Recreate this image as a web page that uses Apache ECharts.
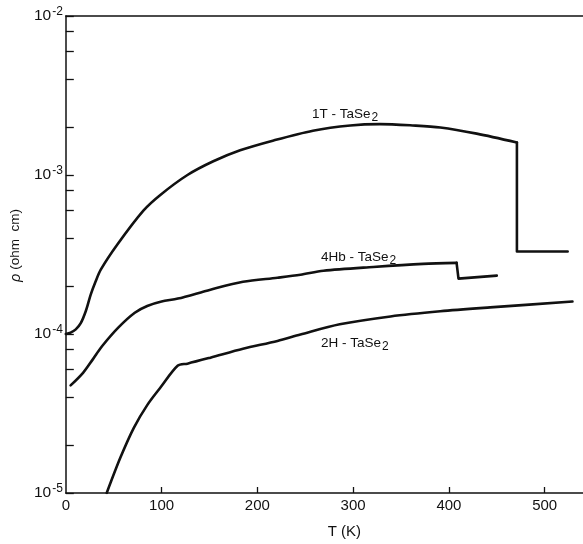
<!DOCTYPE html>
<html>
<head>
<meta charset="utf-8">
<script src="https://cdn.jsdelivr.net/npm/echarts@6/dist/echarts.min.js"></script>
<style>
html,body{margin:0;padding:0;background:#fff;}
#chart{width:583px;height:544px;}
</style>
</head>
<body>
<div id="chart"></div>
<script>
// ---- data (T in K, rho in ohm cm) ----
// smooth parts
const T_1T   = [0, 5, 10.4, 15.6, 20.8, 26, 31, 36.5, 54, 81, 99, 127, 154, 182, 217, 258, 297, 328, 362, 391, 429, 471];
const rho_1T = [1.0e-4, 1.02e-4, 1.07e-4, 1.17e-4, 1.39e-4, 1.77e-4, 2.13e-4, 2.54e-4, 3.67e-4, 5.97e-4, 7.52e-4, 1.0e-3, 1.22e-3, 1.43e-3, 1.65e-3, 1.90e-3, 2.05e-3, 2.09e-3, 2.05e-3, 1.99e-3, 1.82e-3, 1.60e-3];
// transition step (straight segments)
const T_1T_step   = [471, 471, 524];
const rho_1T_step = [1.60e-3, 3.3e-4, 3.3e-4];

const T_4Hb   = [5, 18, 28, 38, 55, 72, 85, 100, 117, 151, 185, 221, 245, 269, 321, 373, 408];
const rho_4Hb = [4.75e-5, 5.7e-5, 6.9e-5, 8.4e-5, 1.1e-4, 1.36e-4, 1.5e-4, 1.6e-4, 1.67e-4, 1.90e-4, 2.13e-4, 2.26e-4, 2.36e-4, 2.50e-4, 2.64e-4, 2.76e-4, 2.80e-4];
const T_4Hb_step   = [408, 409, 410, 450];
const rho_4Hb_step = [2.80e-4, 2.80e-4, 2.23e-4, 2.33e-4];

const T_2H   = [42.7, 57, 71, 85, 99, 117, 127, 151, 185, 221, 245, 286, 339, 391, 443, 529];
const rho_2H = [1.0e-5, 1.67e-5, 2.57e-5, 3.57e-5, 4.62e-5, 6.33e-5, 6.51e-5, 7.1e-5, 8.07e-5, 9.05e-5, 9.93e-5, 1.15e-4, 1.29e-4, 1.39e-4, 1.47e-4, 1.60e-4];

const xTicks = [0, 100, 200, 300, 400, 500];
const yMajor = [1e-5, 1e-4, 1e-3, 1e-2];
const yMinor = [2e-5, 4e-5, 6e-5, 8e-5, 2e-4, 4e-4, 6e-4, 8e-4, 2e-3, 4e-3, 6e-3, 8e-3];
const seriesNames = ['1T-TaSe2', '4Hb-TaSe2', '2H-TaSe2'];

const zip = (a, b) => a.map((v, i) => [v, b[i]]);
const FONT = 'Liberation Sans';
const INK = '#111';

const chart = echarts.init(document.getElementById('chart'), null, {renderer: 'canvas'});

const lineSeries = (name, data, smooth) => ({
  name, type: 'line', data, showSymbol: false, symbol: 'none',
  smooth: smooth,
  lineStyle: {color: INK, width: 2.6, join: 'round', cap: 'round'}, animation: false, z: 3
});

const label = (id, left, top, main) => ({
  type: 'text', left, top, z: 10,
  style: {
    text: '{m|' + main + '}{s|2}',
    rich: {
      m: {fontFamily: FONT, fontSize: 13.5, fill: INK},
      s: {fontFamily: FONT, fontSize: 12, fill: INK, padding: [8, 0, 0, 1]}
    }
  }
});

chart.setOption({
  backgroundColor: '#fff',
  animation: false,
  grid: {left: 65, right: 0, top: 16, bottom: 45},
  xAxis: [{
    type: 'value', min: 0, max: 540, interval: 100,
    axisLine: {show: true, lineStyle: {color: INK, width: 1.5}},
    axisTick: {show: true, inside: true, length: 6, customValues: xTicks.slice(1), lineStyle: {color: INK, width: 1.3}},
    axisLabel: {customValues: xTicks, fontFamily: FONT, fontSize: 15, color: INK, margin: 5},
    splitLine: {show: false},
    name: 'T (K)', nameLocation: 'middle', nameGap: 31,
    nameTextStyle: {fontFamily: FONT, fontSize: 15, color: INK, padding: [0, 0, 0, 40]}
  }, {
    type: 'value', position: 'top', min: 0, max: 540,
    axisLine: {show: true, lineStyle: {color: INK, width: 1.5}},
    axisTick: {show: false}, axisLabel: {show: false}, splitLine: {show: false}
  }],
  yAxis: {
    type: 'log', min: 1e-5, max: 1e-2, logBase: 10,
    axisLine: {show: true, lineStyle: {color: INK, width: 1.5}},
    axisTick: {show: true, inside: true, length: 8, customValues: yMajor.concat(yMinor), lineStyle: {color: INK, width: 1.3}},
    minorTick: {show: false},
    axisLabel: {
      customValues: yMajor, margin: 3, color: INK,
      formatter: v => '{b|10}{s|-' + Math.round(-Math.log10(v)) + '}',
      rich: {
        b: {fontFamily: FONT, fontSize: 15.5, color: INK},
        s: {fontFamily: FONT, fontSize: 12, color: INK, padding: [0, 0, 9, 1]}
      }
    },
    splitLine: {show: false},
    name: '{r|ρ} (ohm  cm)', nameLocation: 'middle', nameGap: 40, nameRotate: 90,
    nameTextStyle: {
      fontFamily: FONT, fontSize: 13.5, color: INK, padding: [0, 0, 0, 18],
      rich: {r: {fontFamily: FONT, fontSize: 14.5, fontStyle: 'italic', color: INK}}
    }
  },
  graphic: [
    label('l1', 312, 107, '1T - TaSe'),
    label('l2', 321, 250, '4Hb - TaSe'),
    label('l3', 321, 336, '2H - TaSe')
  ],
  series: [
    lineSeries(seriesNames[0], zip(T_1T, rho_1T), 0.3),
    lineSeries(seriesNames[0] + ' step', zip(T_1T_step, rho_1T_step), false),
    lineSeries(seriesNames[1], zip(T_4Hb, rho_4Hb), 0.3),
    lineSeries(seriesNames[1] + ' step', zip(T_4Hb_step, rho_4Hb_step), false),
    lineSeries(seriesNames[2], zip(T_2H, rho_2H), 0.3)
  ]
});
</script>
</body>
</html>
